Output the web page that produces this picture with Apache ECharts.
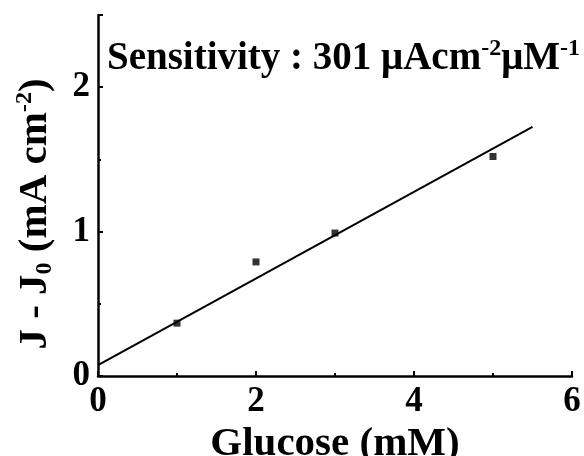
<!DOCTYPE html>
<html>
<head>
<meta charset="utf-8">
<script src="https://cdn.jsdelivr.net/npm/echarts@6/dist/echarts.min.js"></script>
<style>html,body{margin:0;padding:0;background:#fff}#c{width:584px;height:456px}</style>
</head>
<body>
<div id="c"></div>
<script>
const glucose = [1, 2, 3, 5];
const response = [0.366, 0.79, 0.99, 1.52];
const fitX = [0, 5.5];
const fitY = [0.075, 1.725];
const xTicks = [0, 2, 4, 6];
const yTicks = [0, 1, 2];

const FONT = '"Liberation Serif", "Times New Roman", serif';
const chart = echarts.init(document.getElementById('c'), null, {renderer: 'canvas'});
chart.setOption({
  animation: false,
  backgroundColor: '#fff',
  grid: {left: 98, right: 12, top: 15, bottom: 80, containLabel: false, outerBoundsMode: 'none'},
  xAxis: {
    type: 'value', min: 0, max: 6, interval: 2,
    name: 'Glucose (mM)', nameLocation: 'middle', nameGap: 47,
    nameTextStyle: {fontFamily: FONT, fontWeight: 'bold', fontSize: 41, color: '#000'},
    axisLine: {show: true, onZero: false, lineStyle: {color: '#000', width: 2.5}},
    axisTick: {show: true, inside: true, length: 5, lineStyle: {color: '#000', width: 2}},
    minorTick: {show: true, splitNumber: 2, length: 3, lineStyle: {color: '#000', width: 2}},
    splitLine: {show: false},
    axisLabel: {fontFamily: FONT, fontWeight: 'bold', fontSize: 35, color: '#000', margin: 8,
      formatter: v => xTicks.includes(v) ? String(v) : ''}
  },
  yAxis: {
    type: 'value', min: 0, max: 2.5, interval: 1,
    axisLine: {show: true, onZero: false, lineStyle: {color: '#000', width: 2.5}},
    axisTick: {show: true, inside: true, length: 5, lineStyle: {color: '#000', width: 2}},
    minorTick: {show: true, splitNumber: 2, length: 3, lineStyle: {color: '#000', width: 2}},
    splitLine: {show: false},
    axisLabel: {fontFamily: FONT, fontWeight: 'bold', fontSize: 35, color: '#000', margin: 8,
      formatter: v => yTicks.includes(v) ? String(v) : ''}
  },
  graphic: [
    {
      type: 'text', x: 35, y: 214, rotation: Math.PI / 2,
      style: {
        text: '{b|J - J}{sub|0}{b| (mA cm}{sup|-2}{b|)}',
        align: 'center', verticalAlign: 'middle',
        rich: {
          b: {fontFamily: FONT, fontWeight: 'bold', fontSize: 41, fill: '#000', lineHeight: 44, verticalAlign: 'middle'},
          sub: {fontFamily: FONT, fontWeight: 'bold', fontSize: 24, fill: '#000', verticalAlign: 'bottom', lineHeight: 44, padding: [14, 0, 0, 0]},
          sup: {fontFamily: FONT, fontWeight: 'bold', fontSize: 24, fill: '#000', verticalAlign: 'top', lineHeight: 44, padding: [0, 0, 10, 0]}
        }
      }
    },
    {
      type: 'text', x: 107, y: 59,
      style: {
        text: '{b|Sensitivity : 301 \u03bcAcm}{sup|-2}{b|\u03bcM}{sup|-1}',
        align: 'left', verticalAlign: 'middle',
        rich: {
          b: {fontFamily: FONT, fontWeight: 'bold', fontSize: 39, fill: '#000', lineHeight: 44, verticalAlign: 'middle'},
          sup: {fontFamily: FONT, fontWeight: 'bold', fontSize: 24, fill: '#000', verticalAlign: 'top', lineHeight: 44, padding: [0, 0, 10, 0]}
        }
      }
    }
  ],
  series: [
    {
      type: 'line', data: fitX.map((x, i) => [x, fitY[i]]),
      showSymbol: false, symbol: 'none', lineStyle: {color: '#000', width: 2}, z: 2
    },
    {
      type: 'scatter', data: glucose.map((x, i) => [x, response[i]]),
      symbol: 'rect', symbolSize: 7, itemStyle: {color: '#000'}, z: 3
    }
  ]
});
</script>
</body>
</html>
